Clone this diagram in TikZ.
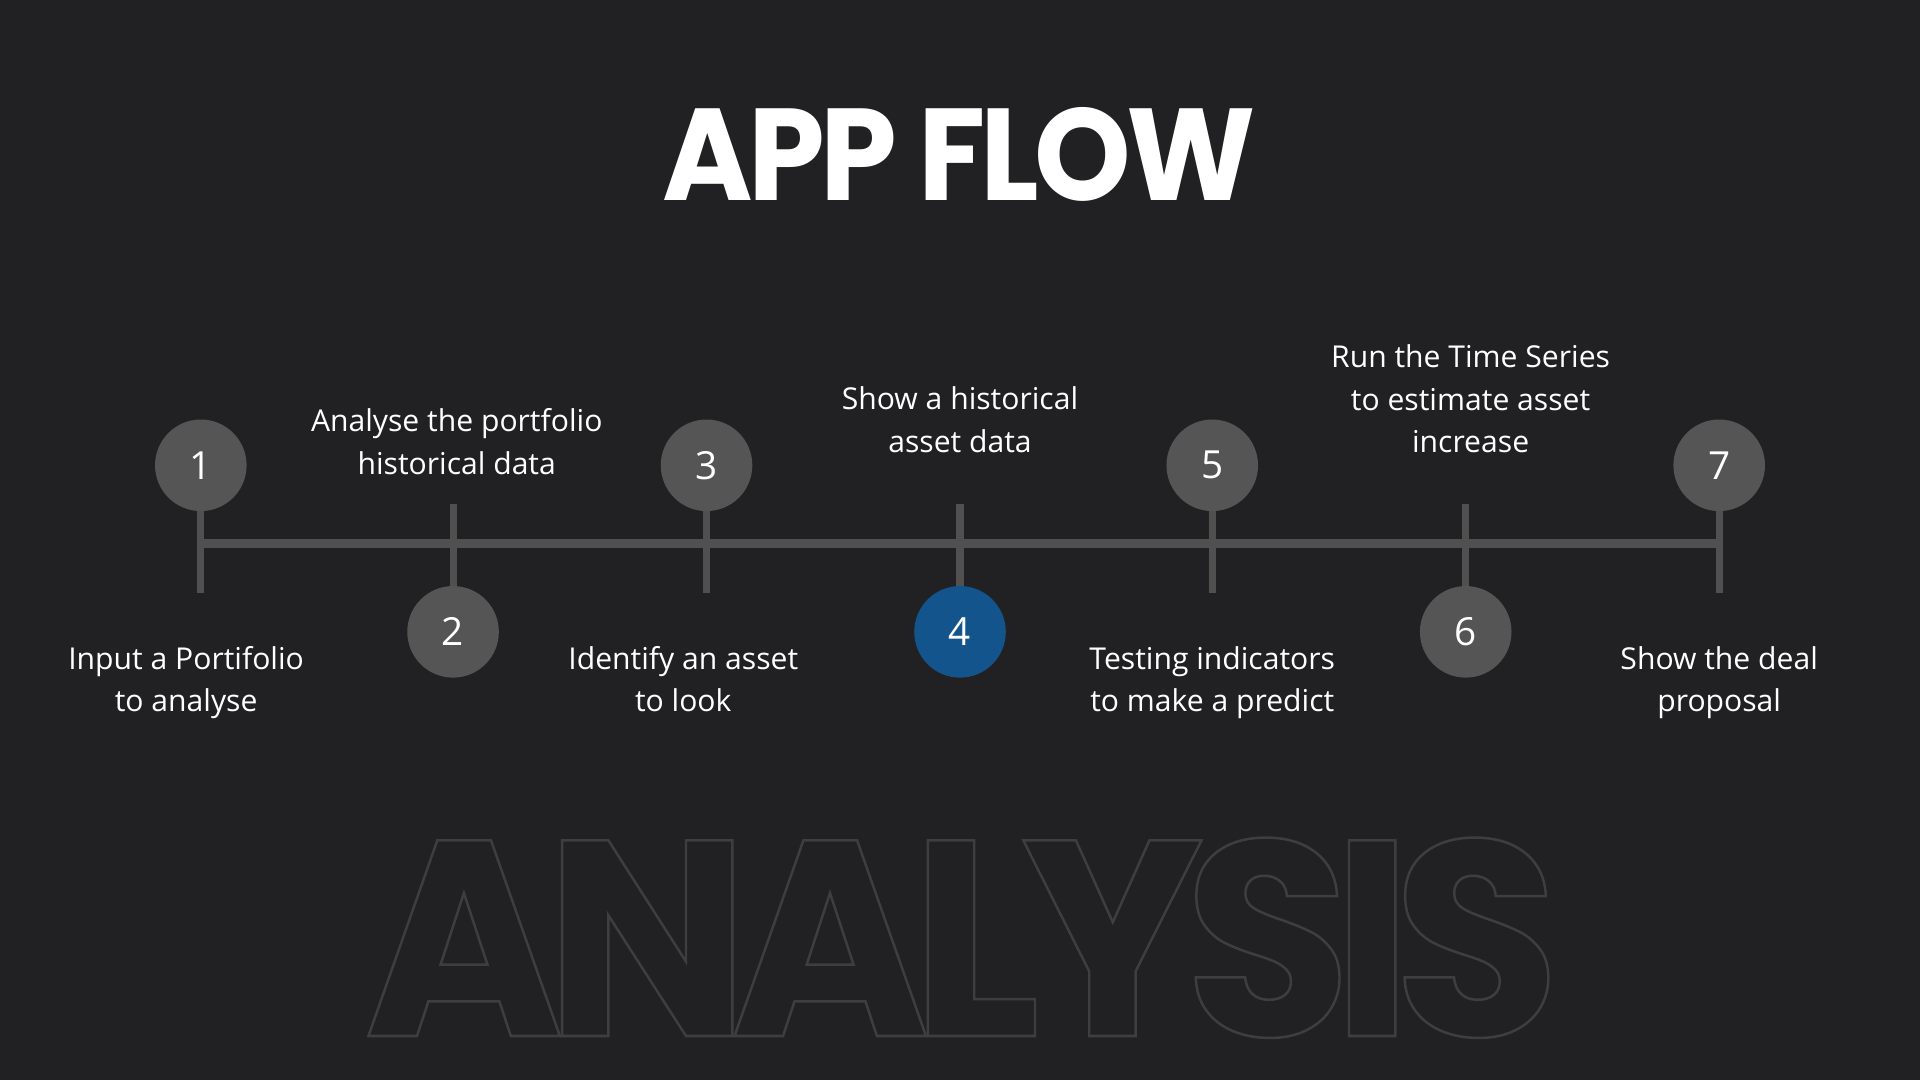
\documentclass[tikz,border=0pt]{standalone}
\usepackage{fontspec}
\usepackage{graphicx}
\setmainfont{Open Sans}
\newfontfamily\titlefont{Poppins}
\newfontfamily\titletight{Poppins}[LetterSpace=-4]
\newfontfamily\wordtight{Poppins}[LetterSpace=-7]
\definecolor{bgc}{HTML}{212123}
\definecolor{linec}{HTML}{505050}
\definecolor{circc}{HTML}{555555}
\definecolor{bluec}{HTML}{14548C}
\definecolor{outlc}{HTML}{3E3E40}
\newcommand{\ls}{\rule[-5.9pt]{0pt}{19.8pt}}
\tikzset{
  stepcirc/.style={circle, fill=circc, minimum size=1.496cm, inner sep=0pt, text=white, font=\fontsize{18}{18}\selectfont},
  stepcircblue/.style={stepcirc, fill=bluec},
  steplabel/.style={align=center, text=white, inner sep=0pt, font=\fontsize{14}{19.8}\selectfont},
  mainline/.style={draw=linec, line width=4pt},
  tickline/.style={draw=linec, line width=3.3pt},
}
\begin{document}
\begin{tikzpicture}[x=0.02cm, y=-0.02cm]
\fill[bgc] (0,0) rectangle (1568,882);
\useasboundingbox (0,0) rectangle (1568,882);
% background outlined word
\node[inner sep=0pt, anchor=south west] (bigword) at (297,848) {\resizebox{19.52cm}{3.24cm}{\color{outlc}\wordtight\bfseries\special{pdf:literal direct 1 Tr 0.09 w}ANALYSIS\special{pdf:literal direct 0 Tr}}};
% title
\node[inner sep=0pt, anchor=south west, text=white] (title) at (541,165) {\resizebox{9.68cm}{1.52cm}{\titletight\bfseries APP FLOW}};
% timeline coordinates
\coordinate (L) at (164,444);
\coordinate (R) at (1404,444);
\foreach \i/\x in {1/164,2/370,3/577,4/784,5/990,6/1197,7/1404}{
  \coordinate (t\i) at (\x,412);
  \coordinate (b\i) at (\x,484);
}
\draw[mainline] (L) -- (R);
\foreach \i in {1,...,7}{ \draw[tickline] (t\i) -- (b\i); }
% circles
\node[stepcirc] (c1) at (164,380) {1};
\node[stepcirc] (c2) at (370,516) {2};
\node[stepcirc] (c3) at (577,380) {3};
\node[stepcircblue] (c4) at (784,516) {4};
\node[stepcirc] (c5) at (990,380) {5};
\node[stepcirc] (c6) at (1197,516) {6};
\node[stepcirc] (c7) at (1404,380) {7};
% labels
\node[steplabel] (l1) at (152,557) {\ls Input a Portifolio\\\ls to analyse};
\node[steplabel] (l2) at (373,363) {\ls Analyse the portfolio\\\ls historical data};
\node[steplabel] (l3) at (558,557) {\ls Identify an asset\\\ls to look};
\node[steplabel] (l4) at (784,345) {\ls Show a historical\\\ls asset data};
\node[steplabel] (l5) at (990,557) {\ls Testing indicators\\\ls to make a predict};
\node[steplabel] (l6) at (1201,328) {\ls Run the Time Series\\\ls to estimate asset\\\ls increase};
\node[steplabel] (l7) at (1404,557) {\ls Show the deal\\\ls proposal};
\end{tikzpicture}
\end{document}
